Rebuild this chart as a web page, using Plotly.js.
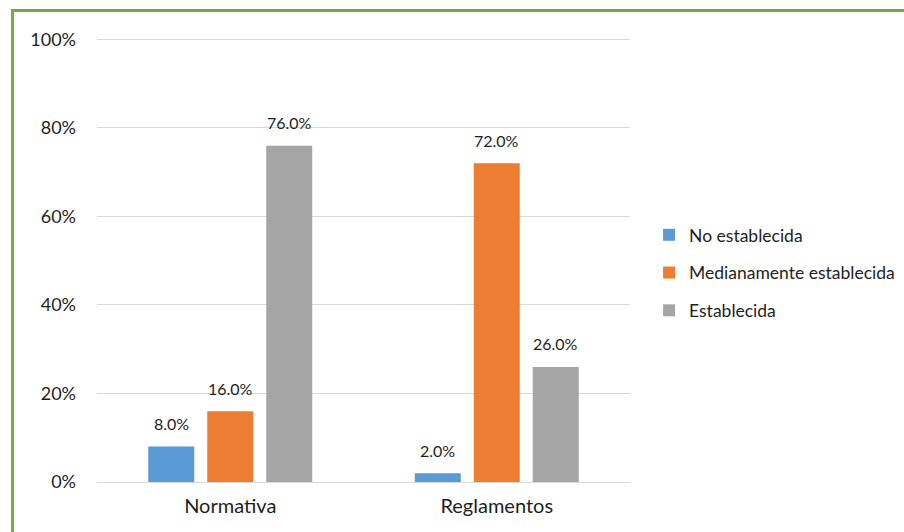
<!DOCTYPE html>
<html>
<head>
<meta charset="utf-8">
<script src="https://cdn.plot.ly/plotly-3.0.1.min.js"></script>
<style>
  html, body { margin: 0; padding: 0; background: #fff; }
  #wrap { position: relative; width: 904px; height: 532px; overflow: hidden; }
  #frame { position: absolute; left: 11px; top: 9px; right: -10px; bottom: -10px;
           border-top: 3px solid #70ad47; border-left: 3px solid #70ad47; pointer-events: none; }
  #chart { position: absolute; left: 0; top: 0; width: 904px; height: 532px; }
</style>
</head>
<body>
<div id="wrap">
  <div id="chart"></div>
  <div id="frame"></div>
</div>
<script>
// Categories and series (shares of respondents)
const categories = ['Normativa', 'Reglamentos'];
const seriesNames = ['No establecida', 'Medianamente establecida', 'Establecida'];
const noEstablecida = [0.08, 0.02];
const medianamente = [0.16, 0.72];
const establecida = [0.76, 0.26];
const seriesValues = [noEstablecida, medianamente, establecida];
const colors = ['#5b9bd5', '#ed7d31', '#a5a5a5'];
const yTicks = [0, 0.2, 0.4, 0.6, 0.8, 1.0];

const FONT = 'Lato, "Open Sans", sans-serif';
const TXT = '#1e1e1e';
const bargap = 0.336;
const slot = (1 - bargap) / seriesNames.length;

const traces = seriesValues.map((vals, j) => ({
  type: 'bar',
  name: seriesNames[j],
  x: categories,
  y: vals,
  marker: { color: colors[j] },
  legendgroup: 'g' + j,
  hoverinfo: 'skip'
}));

// Value labels above each bar, positioned on the axes' own scales
const annotations = [];
seriesValues.forEach((vals, j) => {
  vals.forEach((v, i) => {
    annotations.push({
      x: i + (j - 1) * slot,
      y: v,
      xref: 'x', yref: 'y',
      text: (v * 100).toFixed(1) + '%',
      showarrow: false,
      yanchor: 'middle',
      yshift: 23,
      font: { family: FONT, size: 16, color: TXT }
    });
  });
});

const layout = {
  width: 904, height: 532,
  margin: { l: 97, r: 274, t: 35, b: 50 },
  paper_bgcolor: '#ffffff', plot_bgcolor: '#ffffff',
  barmode: 'group',
  bargap: bargap,
  bargroupgap: 0.22,
  font: { family: FONT, color: TXT },
  xaxis: {
    type: 'category',
    showgrid: false, zeroline: false,
    showline: false,
    ticks: '',
    tickfont: { family: FONT, size: 20, color: TXT },
    ticklabelstandoff: 10
  },
  yaxis: {
    range: [0, 1.01],
    tickvals: yTicks,
    tickformat: '.0%',
    showgrid: true,
    gridcolor: '#d9d9d9', gridwidth: 1,
    zeroline: true, zerolinecolor: '#d9d9d9', zerolinewidth: 1,
    showline: false, ticks: '',
    tickfont: { family: FONT, size: 18, color: TXT },
    ticklabelstandoff: 20,
    fixedrange: true
  },
  showlegend: true,
  legend: {
    xref: 'container', yref: 'container',
    x: 0.718, xanchor: 'left',
    y: 0.487, yanchor: 'middle',
    traceorder: 'grouped',
    tracegroupgap: 12,
    itemwidth: 30,
    font: { family: FONT, size: 17.5, color: TXT },
    bgcolor: 'rgba(0,0,0,0)'
  },
  annotations: annotations
};

Plotly.newPlot('chart', traces, layout, { displayModeBar: false, staticPlot: true });
</script>
</body>
</html>
